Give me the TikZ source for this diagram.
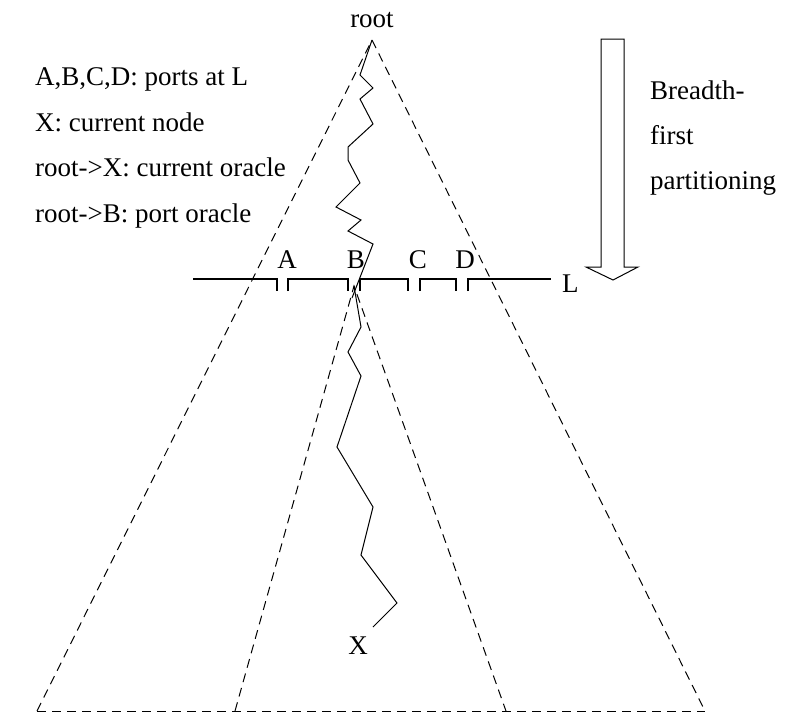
\documentclass[tikz,border=0pt]{standalone}
\usepackage{fontspec}
\setmainfont{Liberation Serif}
\begin{document}
\begin{tikzpicture}[x=1pt,y=-1pt,
  lbl/.style={font=\fontsize{27}{32}\selectfont, inner sep=0pt},
  tri/.style={dash pattern=on 9pt off 6pt, line width=1pt},
  zig/.style={line width=1pt, line join=miter},
  lev/.style={line width=1.8pt},
  bigarrow/.style={line width=1pt, line join=miter}]
\useasboundingbox (0,0) rectangle (785,713);
% coordinates
\coordinate (apex) at (372,40);
\coordinate (bl) at (37,711);
\coordinate (br) at (705,711);
\coordinate (iapex) at (354,286);
\coordinate (ibl) at (235,711);
\coordinate (ibr) at (506,711);
\coordinate (xend) at (373,627);
% triangles
\draw[tri] (bl) -- (apex) -- (br);
\draw[tri] (bl) -- (br);
\draw[tri] (ibl) -- (iapex) -- (ibr);
% level line L
\draw[lev] (193,279) -- (277,279) -- (277,291);
\draw[lev] (288,291) -- (288,279) -- (348,279) -- (348,291);
\draw[lev] (360,291) -- (360,279) -- (408,279) -- (408,291);
\draw[lev] (420,291) -- (420,279) -- (456,279) -- (456,291);
\draw[lev] (468,291) -- (468,279) -- (551,279);
% labels
\node[lbl, anchor=base] (root) at (372,27) {root};
\node[lbl, anchor=base] (A) at (287,268) {A};
\node[lbl, anchor=base] (B) at (356,268) {B};
\node[lbl, anchor=base] (C) at (418,268) {C};
\node[lbl, anchor=base] (D) at (465,268) {D};
\node[lbl, anchor=base west] (L) at (562,292) {L};
\node[lbl, anchor=base] (X) at (358,654) {X};
\node[lbl, anchor=base west] (t1) at (35,85) {A,B,C,D: ports at L};
\node[lbl, anchor=base west] (t2) at (35,131) {X: current node};
\node[lbl, anchor=base west] (t3) at (35,176) {root->X: current oracle};
\node[lbl, anchor=base west] (t4) at (35,222) {root->B: port oracle};
\node[lbl, anchor=base west] (b1) at (650,99) {Breadth-};
\node[lbl, anchor=base west] (b2) at (650,144) {first};
\node[lbl, anchor=base west] (b3) at (650,189) {partitioning};
% zigzag paths
\draw[zig] (apex) -- (360,75) -- (373,88) -- (360,99) -- (373,124) -- (348,147)
  -- (348,160) -- (360,183) -- (336,207) -- (361,220) -- (348,231) -- (373,244) -- (352,298);
\draw[zig] (iapex) -- (361,327) -- (348,352) -- (361,376) -- (337,447) -- (373,507)
  -- (361,555) -- (397,603) -- (xend);
% breadth-first arrow
\draw[bigarrow] (601,39) -- (624,39) -- (624,267) -- (638,267) -- (613,280)
  -- (586,267) -- (601,267) -- cycle;
\end{tikzpicture}
\end{document}
